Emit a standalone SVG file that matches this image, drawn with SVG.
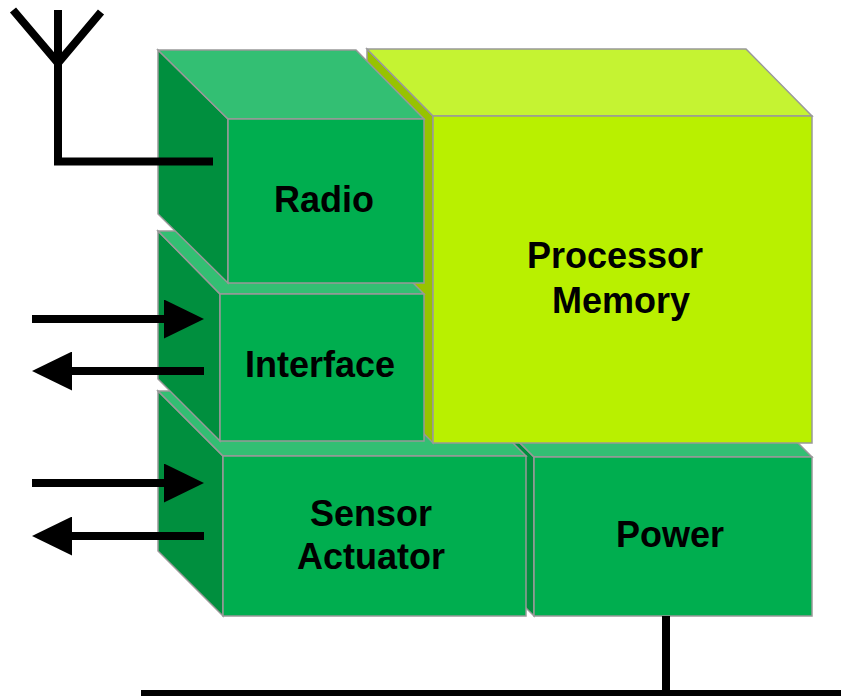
<svg xmlns="http://www.w3.org/2000/svg" width="841" height="696" viewBox="0 0 841 696">
<defs>
<style>
.gf{fill:#00AE4F;stroke:#999;stroke-width:1.5;stroke-linejoin:miter}
.gt{fill:#33BF73;stroke:#999;stroke-width:1.5}
.gs{fill:#008F3E;stroke:#999;stroke-width:1.5}
.yf{fill:#B9F000;stroke:#999;stroke-width:1.5}
.yt{fill:#C5F332;stroke:#999;stroke-width:1.5}
.ys{fill:#97C300;stroke:#999;stroke-width:1.5}
.lbl{font-family:"Liberation Sans",Arial,sans-serif;font-weight:bold;font-size:36px;fill:#000;text-anchor:middle}
.wire{fill:none;stroke:#000;stroke-width:8;stroke-linejoin:miter;stroke-linecap:butt}
</style>
<marker id="ah" viewBox="0 0 40 39" markerWidth="5" markerHeight="4.875" refX="1" refY="19.5" orient="auto" markerUnits="strokeWidth">
<path d="M0,0 L40,19.5 L0,39 Z" fill="#000"/>
</marker>
</defs>
<rect width="841" height="696" fill="#fff"/>

<g id="power">
<polygon class="gs" points="469,392 534,457 534,616 469,551"/>
<polygon class="gt" points="469,392 747,392 812,457 534,457"/>
<rect class="gf" x="534" y="457" width="278" height="159"/>
<text class="lbl" x="670" y="547">Power</text>
</g>

<g id="sensor-actuator">
<polygon class="gs" points="158,391 223,456 223,616 158,551"/>
<polygon class="gt" points="158,391 461,391 526,456 223,456"/>
<rect class="gf" x="223" y="456" width="303" height="160"/>
<text class="lbl" x="371" y="526">Sensor</text>
<text class="lbl" x="371" y="569">Actuator</text>
</g>

<g id="processor-memory">
<polygon class="ys" points="367,49 433,116 433,443 367,376"/>
<polygon class="yt" points="367,49 746,49 812,116 433,116"/>
<rect class="yf" x="433" y="116" width="379" height="327"/>
<text class="lbl" x="615" y="268">Processor</text>
<text class="lbl" x="621" y="313">Memory</text>
</g>

<g id="interface">
<polygon class="gs" points="158,231 220,294 220,441 158,379"/>
<polygon class="gt" points="158,231 362,231 424,294 220,294"/>
<rect class="gf" x="220" y="294" width="204" height="147"/>
<text class="lbl" x="320" y="377">Interface</text>
</g>

<g id="radio">
<polygon class="gs" points="158,50 228,119 228,283 158,214"/>
<polygon class="gt" points="158,50 356,50 424,119 228,119"/>
<rect class="gf" x="228" y="119" width="196" height="164"/>
<text class="lbl" x="324" y="212">Radio</text>
</g>

<g id="connectors">
<polyline class="wire" points="13,10 58,63 101,12"/>
<polyline class="wire" points="58,10 58,161.5 213,161.5"/>
<line class="wire" x1="32" y1="319" x2="165" y2="319" marker-end="url(#ah)"/>
<line class="wire" x1="204" y1="371" x2="71" y2="371" marker-end="url(#ah)"/>
<line class="wire" x1="32" y1="483" x2="165" y2="483" marker-end="url(#ah)"/>
<line class="wire" x1="204" y1="536" x2="71" y2="536" marker-end="url(#ah)"/>
<line class="wire" x1="666" y1="616" x2="666" y2="690"/>
<rect x="141" y="690" width="700" height="6" fill="#000"/>
</g>
</svg>
